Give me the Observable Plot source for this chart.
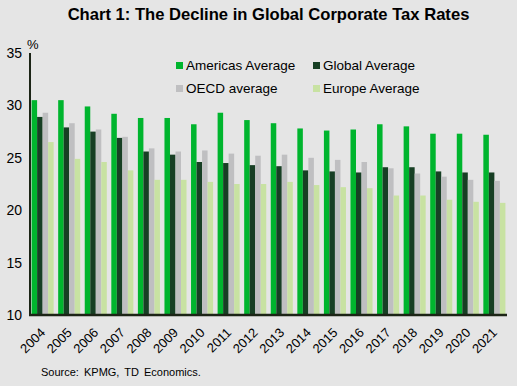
<!DOCTYPE html>
<html>
<head>
<meta charset="utf-8">
<script src="https://cdn.jsdelivr.net/npm/d3@7"></script>
<script src="https://cdn.jsdelivr.net/npm/@observablehq/plot@0.6"></script>
<style>
  html, body { margin: 0; padding: 0; }
  body { width: 517px; height: 386px; background: #e5e5e5; position: relative; overflow: hidden;
         font-family: "Liberation Sans", Arial, sans-serif; color: #000; }
  #title { position: absolute; left: 30px; width: 477px; top: 5px; text-align: center;
           font-weight: bold; font-size: 16.6px; }
  #chart { position: absolute; left: 0; top: 30px; width: 517px; }
  #pct { position: absolute; left: 27px; top: 37px; font-size: 13px; }
  .leg { position: absolute; font-size: 13.5px; white-space: nowrap; }
  .leg span { display: inline-block; width: 7px; height: 7px; margin-right: 3px; vertical-align: 1px; }
  #source { position: absolute; left: 41px; top: 366px; font-size: 11px; word-spacing: 2px; }
</style>
</head>
<body>
<div id="title">Chart 1: The Decline in Global Corporate Tax Rates</div>
<div id="chart"></div>
<div id="pct">%</div>
<div id="legend"></div>
<div id="source">Source: KPMG, TD Economics.</div>
<script>
const years = ["2004","2005","2006","2007","2008","2009","2010","2011","2012","2013","2014","2015","2016","2017","2018","2019","2020","2021"];
const seriesNames = ["Americas Average", "Global Average", "OECD average", "Europe Average"];
const seriesColors = ["#00b52e", "#173f24", "#bfbfc1", "#c8e2a2"];
const americas = [30.5,30.5,29.9,29.2,28.8,28.8,28.2,29.3,28.6,28.3,27.8,27.6,27.7,28.2,28.0,27.3,27.3,27.2];
const globalAvg = [28.9,27.9,27.5,26.9,25.6,25.3,24.6,24.5,24.3,24.2,23.8,23.7,23.6,24.1,24.1,23.7,23.6,23.6];
const oecd = [29.3,28.3,27.7,27.0,25.9,25.6,25.7,25.4,25.2,25.3,25.0,24.8,24.6,24.0,23.5,23.2,22.9,22.8];
const europe = [26.5,24.9,24.6,23.8,22.9,22.9,22.7,22.5,22.5,22.7,22.4,22.2,22.1,21.4,21.4,21.0,20.8,20.7];
const yTicks = [10, 15, 20, 25, 30, 35];

const seriesValues = [americas, globalAvg, oecd, europe];
const data = [];
years.forEach((yr, i) => {
  seriesNames.forEach((s, j) => data.push({year: yr, series: s, value: seriesValues[j][i]}));
});

const plot = Plot.plot({
  width: 517,
  height: 330,
  marginTop: 23,
  marginBottom: 45,
  marginLeft: 30,
  marginRight: 10,
  style: {background: "transparent", fontFamily: "'Liberation Sans', Arial, sans-serif", fontSize: "13px", color: "#000"},
  facet: {data: data, x: "year"},
  fx: {domain: years, paddingInner: 0.17, paddingOuter: 0.06, round: false, axis: null},
  x: {domain: seriesNames, axis: null, padding: 0, round: false},
  y: {domain: [10, 35], ticks: yTicks, tickSize: 0, tickPadding: 10, label: null},
  color: {domain: seriesNames, range: seriesColors},
  marks: [
    Plot.barY(data, {x: "series", y1: 10, y2: "value", fill: "series"}),
    Plot.text(data, {
      filter: d => d.series === seriesNames[0],
      text: "year",
      frameAnchor: "bottom",
      rotate: -45,
      textAnchor: "end",
      lineAnchor: "middle",
      dy: 15,
      dx: 0,
      fontSize: 13,
      fill: "#000"
    })
  ]
});
document.getElementById("chart").appendChild(plot);

// axis lines from the plot's scales
const ys = plot.scale("y");
const yBottom = ys.apply(10), yTop = ys.apply(35);
const svg = d3.select(plot);
svg.selectAll('[aria-label^="y-axis"] text').attr("font-size", 14).attr("text-anchor", "end");
svg.append("line").attr("x1", 30).attr("x2", 30).attr("y1", yTop).attr("y2", yBottom)
  .attr("stroke", "#1c2416").attr("stroke-width", 2);
svg.append("line").attr("x1", 29).attr("x2", 517 - 10).attr("y1", yBottom).attr("y2", yBottom)
  .attr("stroke", "#1c2416").attr("stroke-width", 2.5);

// legend
const legPos = [[176, 58], [313, 58], [176, 81], [313, 81]];
const legend = document.getElementById("legend");
seriesNames.forEach((s, i) => {
  const d = document.createElement("div");
  d.className = "leg";
  d.style.left = legPos[i][0] + "px";
  d.style.top = legPos[i][1] + "px";
  d.innerHTML = `<span style="background:${seriesColors[i]}"></span>${s}`;
  legend.appendChild(d);
});
</script>
</body>
</html>
